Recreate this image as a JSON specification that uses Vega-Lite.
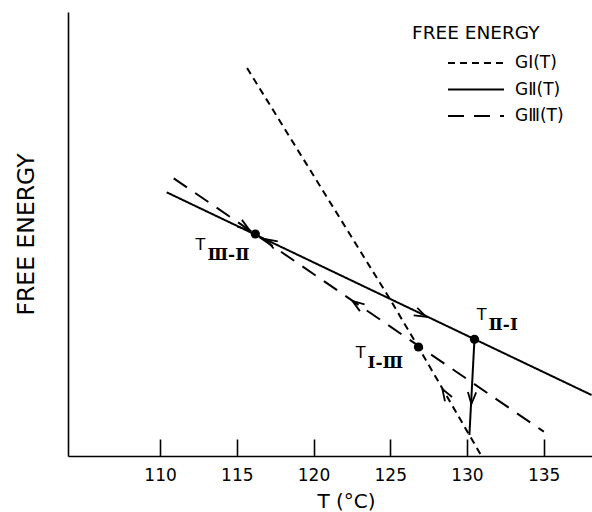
{
  "$schema": "https://vega.github.io/schema/vega-lite/v6.json",
  "width": 524,
  "height": 444,
  "autosize": "none",
  "padding": {"left": 68, "top": 12, "right": 0, "bottom": 56},
  "background": "white",
  "config": {
    "view": {"stroke": null},
    "font": "DejaVu Sans",
    "axis": {"domainColor": "black", "domainWidth": 1.6, "tickColor": "black", "tickWidth": 1.6, "labelColor": "black", "titleColor": "black", "grid": false}
  },
  "title": {"text": "FREE ENERGY", "anchor": "start", "frame": "group", "dx": 344, "dy": 45, "offset": 0, "fontSize": 18.5, "fontWeight": "normal", "baseline": "alphabetic", "color": "black", "font": "DejaVu Sans"},
  "layer": [
    {
      "data": {"values": [
        {"s": "GⅠ(T)", "T": 115.67, "E": 388},
        {"s": "GⅠ(T)", "T": 124.95, "E": 157.7},
        {"s": "GⅠ(T)", "T": 126.84, "E": 108.7},
        {"s": "GⅠ(T)", "T": 130.95, "E": 0},
        {"s": "GⅡ(T)", "T": 110.43, "E": 263.7},
        {"s": "GⅡ(T)", "T": 138.12, "E": 61},
        {"s": "GⅢ(T)", "T": 110.89, "E": 277.7},
        {"s": "GⅢ(T)", "T": 135.01, "E": 24.3}
      ]},
      "mark": {"type": "line", "color": "black", "strokeWidth": 2},
      "encoding": {
        "x": {"field": "T", "type": "quantitative", "scale": {"domain": [104, 138.15], "nice": false, "zero": false},
              "axis": {"title": "T (°C)", "values": [110, 115, 120, 125, 130, 135], "format": "d", "tickSize": -17, "labelPadding": 28, "labelFontSize": 17, "labelFlush": false, "titleFontSize": 20, "titleFontWeight": "normal", "titleX": 278, "titleY": 45, "titleBaseline": "middle"}},
        "y": {"field": "E", "type": "quantitative", "scale": {"domain": [0, 444], "nice": false, "zero": false},
              "axis": {"title": "FREE ENERGY", "ticks": false, "labels": false, "titleFontSize": 23.5, "titleFontWeight": "normal", "titlePadding": 30}},
        "strokeDash": {"field": "s", "type": "nominal",
          "scale": {"domain": ["GⅠ(T)", "GⅡ(T)", "GⅢ(T)"], "range": [[7, 5], [1, 0], [16, 10]]},
          "legend": {"title": null, "orient": "none", "legendX": 393, "legendY": 36, "symbolType": "M-2,0H2", "symbolSize": 784, "symbolStrokeWidth": 2, "symbolStrokeColor": "black", "symbolFillColor": "transparent", "labelFontSize": 17, "labelOffset": 24, "rowPadding": 3.5, "padding": 0, "labelColor": "black"}}
      }
    },
    {
      "data": {"values": [
        {"T": 130.49, "E": 116.7},
        {"T": 130.16, "E": 21}
      ]},
      "mark": {"type": "line", "color": "black", "strokeWidth": 2},
      "encoding": {
        "x": {"field": "T", "type": "quantitative"},
        "y": {"field": "E", "type": "quantitative"}
      }
    },
    {
      "data": {"values": [
        {"T": 116.21, "E": 222},
        {"T": 126.84, "E": 109},
        {"T": 130.49, "E": 116.7}
      ]},
      "mark": {"type": "point", "filled": true, "color": "black", "size": 85, "opacity": 1},
      "encoding": {
        "x": {"field": "T", "type": "quantitative"},
        "y": {"field": "E", "type": "quantitative"}
      }
    },
    {
      "data": {"values": [
        {"T": 127.34, "E": 139.3, "dir": 25.7},
        {"T": 122.54, "E": 155, "dir": 214.4},
        {"T": 128.4, "E": 67, "dir": 238.9},
        {"T": 130.29, "E": 52, "dir": 93},
        {"T": 115.82, "E": 226, "dir": 34.4},
        {"T": 116.87, "E": 217, "dir": 210}
      ]},
      "mark": {"type": "point", "shape": "M-2,-0.7L0,0L-2,0.7", "filled": false, "color": "black", "strokeWidth": 1.8, "size": 140, "opacity": 1},
      "encoding": {
        "x": {"field": "T", "type": "quantitative"},
        "y": {"field": "E", "type": "quantitative"},
        "angle": {"field": "dir", "type": "quantitative", "scale": null}
      }
    },
    {
      "data": {"values": [
        {"T": 112.63, "E": 211, "sub": "Ⅲ-Ⅱ"},
        {"T": 123.07, "E": 103, "sub": "Ⅰ-Ⅲ"},
        {"T": 130.95, "E": 141, "sub": "Ⅱ-Ⅰ"}
      ]},
      "layer": [
        {
          "mark": {"type": "text", "text": "T", "align": "center", "baseline": "middle", "fontSize": 16, "color": "black", "font": "DejaVu Sans"},
          "encoding": {
            "x": {"field": "T", "type": "quantitative"},
            "y": {"field": "E", "type": "quantitative"}
          }
        },
        {
          "mark": {"type": "text", "align": "left", "baseline": "middle", "dx": 7, "dy": 10, "fontSize": 17, "fontWeight": "bold", "color": "black", "font": "DejaVu Serif"},
          "encoding": {
            "x": {"field": "T", "type": "quantitative"},
            "y": {"field": "E", "type": "quantitative"},
            "text": {"field": "sub", "type": "nominal"}
          }
        }
      ]
    }
  ]
}
